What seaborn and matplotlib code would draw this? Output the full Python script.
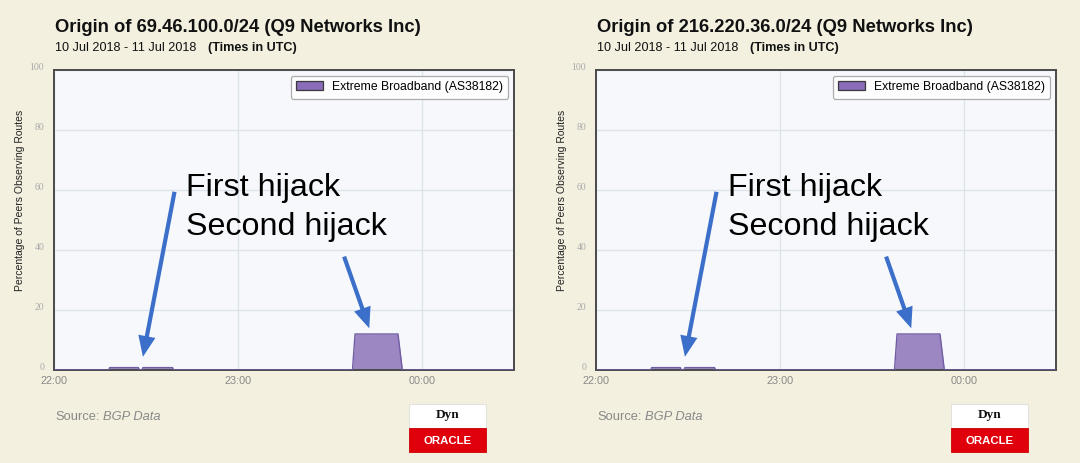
import matplotlib
matplotlib.use("Agg")
import matplotlib.pyplot as plt
from matplotlib.patches import Patch, Rectangle
import seaborn as sns
import pandas as pd

# ---------------- data ----------------
prefixes = ["69.46.100.0/24", "216.220.36.0/24"]
owner = "Q9 Networks Inc"
date_range = "10 Jul 2018 - 11 Jul 2018"
series_name = "Extreme Broadband (AS38182)"
times = ["22:00:00", "22:17:50", "22:18:10", "22:27:30", "22:27:50", "22:28:40",
         "22:29:00", "22:38:40", "22:39:00", "23:37:20", "23:38:10", "23:52:10",
         "23:53:35", "00:30:00"]
percent = [0, 0, 0.8, 0.8, 0, 0, 0.8, 0.8, 0, 0, 12, 12, 0, 0]
x_tick_labels = ["22:00", "23:00", "00:00"]
y_tick_values = [0, 20, 40, 60, 80, 100]
annotation_labels = ["First hijack", "Second hijack"]
source_label = "BGP Data"

# ---------------- style ----------------
BG = "#f3f0e0"
PLOT_BG = "#f6f8fb"
GRID = "#dde3ea"
FILL = "#9c87c2"
LINE = "#6f5ca3"
ARROW = "#3c6fc9"
SANS = ["Liberation Sans", "DejaVu Sans"]
SERIF = ["Liberation Serif", "DejaVu Serif"]
plt.rcParams["font.family"] = SANS


def to_minutes(t):
    h, m, s = (int(v) for v in t.split(":"))
    val = h * 60 + m + s / 60 - 22 * 60
    if val < 0:
        val += 24 * 60
    return val


df = pd.DataFrame({"minutes": [to_minutes(t) for t in times], "percent": percent})
tick_minutes = [to_minutes(t + ":00") for t in x_tick_labels]
x_end = to_minutes(times[-1])

W, H = 1080, 463
fig = plt.figure(figsize=(W / 100, H / 100), dpi=100, facecolor=BG)

ARROW_STYLE = "simple,head_width=1.25,head_length=1.5,tail_width=0.3"

offsets = [0, 542]
for prefix, off in zip(prefixes, offsets):
    ax = fig.add_axes([(54 + off) / W, 1 - 370 / H, 460 / W, 300 / H])
    ax.set_facecolor(PLOT_BG)
    ax.fill_between(df["minutes"], df["percent"], 0, color=FILL, lw=0, zorder=2)
    sns.lineplot(data=df, x="minutes", y="percent", ax=ax, color=LINE, lw=1.0,
                 estimator=None, sort=False, legend=False, zorder=3)
    ax.set_xlim(0, x_end)
    ax.set_ylim(0, 100)
    ax.set_xticks(tick_minutes)
    ax.set_xticklabels(x_tick_labels, fontsize=7.8, color="#888888")
    ax.set_yticks(y_tick_values)
    ax.set_yticklabels([str(v) for v in y_tick_values], fontsize=7,
                       color="#aaaaaa", family=SERIF)
    for lab in ax.get_yticklabels():
        lab.set_va("baseline")
    ax.tick_params(axis="x", length=0, pad=4)
    ax.tick_params(axis="y", length=0, pad=7)
    ax.grid(True, color=GRID, lw=0.9, zorder=0)
    ax.set_axisbelow(True)
    ax.set_xlabel("")
    ax.set_ylabel("")
    for sp in ax.spines.values():
        sp.set_color("#4a4a4a")
        sp.set_linewidth(1.4)

    handle = Patch(facecolor="#8a6cb8", edgecolor="#3a3a3a", lw=0.9)
    leg = ax.legend([handle], [series_name], loc="upper right",
                    bbox_to_anchor=(0.987, 0.981), fontsize=8.8, frameon=True,
                    fancybox=True, handlelength=2.2, handleheight=0.75,
                    borderpad=0.45, handletextpad=0.7, borderaxespad=0)
    leg.get_frame().set_edgecolor("#9a9a9a")
    leg.get_frame().set_facecolor("white")
    leg.get_frame().set_linewidth(0.9)

    # annotations
    ax.text(43.1, 60.8, annotation_labels[0], fontsize=23.2, color="black",
            va="center", ha="left", zorder=6)
    ax.text(43.1, 47.8, annotation_labels[1], fontsize=23.2, color="black",
            va="center", ha="left", zorder=6)
    ax.annotate("", xy=(29.0, 4.4), xytext=(39.3, 59.4),
                arrowprops=dict(arrowstyle=ARROW_STYLE, color=ARROW, lw=0,
                                mutation_scale=10, shrinkA=0, shrinkB=0),
                zorder=6)
    ax.annotate("", xy=(102.8, 13.9), xytext=(94.6, 37.8),
                arrowprops=dict(arrowstyle=ARROW_STYLE, color=ARROW, lw=0,
                                mutation_scale=10, shrinkA=0, shrinkB=0),
                zorder=6)

    # titles
    fig.text((55 + off) / W, 1 - 28 / H, f"Origin of {prefix} ({owner})",
             fontsize=13.2, weight="bold", va="center", ha="left", color="#111111")
    fig.text((55 + off) / W, 1 - 48 / H, date_range, fontsize=9.1,
             va="center", ha="left", color="#111111")
    fig.text((208 + off) / W, 1 - 48 / H, "(Times in UTC)", fontsize=9.1,
             weight="bold", va="center", ha="left", color="#111111")

    # y label
    fig.text((20 + off) / W, 1 - 200 / H, "Percentage of Peers Observing Routes",
             rotation=90, fontsize=7.5, va="center", ha="center", color="#222222")

    # source
    fig.text((55 + off) / W, 1 - 417 / H, "Source:", fontsize=9.3,
             va="center", ha="left", color="#888888")
    fig.text((103 + off) / W, 1 - 417 / H, source_label, fontsize=9.3,
             style="italic", va="center", ha="left", color="#888888")

    # logo
    lx0, lx1 = 409 + off, 486 + off
    fig.patches.append(Rectangle((lx0 / W, 1 - 428 / H), (lx1 - lx0) / W, 24 / H,
                                 transform=fig.transFigure, facecolor="white",
                                 edgecolor="#dddddd", lw=0.6))
    fig.patches.append(Rectangle((lx0 / W, 1 - 452 / H), (lx1 - lx0) / W, 24 / H,
                                 transform=fig.transFigure, facecolor="#e0000b",
                                 edgecolor="#cc0000", lw=0.6))
    fig.text((lx0 + lx1) / 2 / W, 1 - 415 / H, "Dyn", fontsize=9.5, weight="bold",
             family=SERIF, va="center", ha="center", color="#111111")
    fig.text((lx0 + lx1) / 2 / W, 1 - 440.5 / H, "ORACLE", fontsize=8.2,
             weight="bold", va="center", ha="center", color="white")

fig.savefig("out.png", dpi=100, facecolor=BG)
